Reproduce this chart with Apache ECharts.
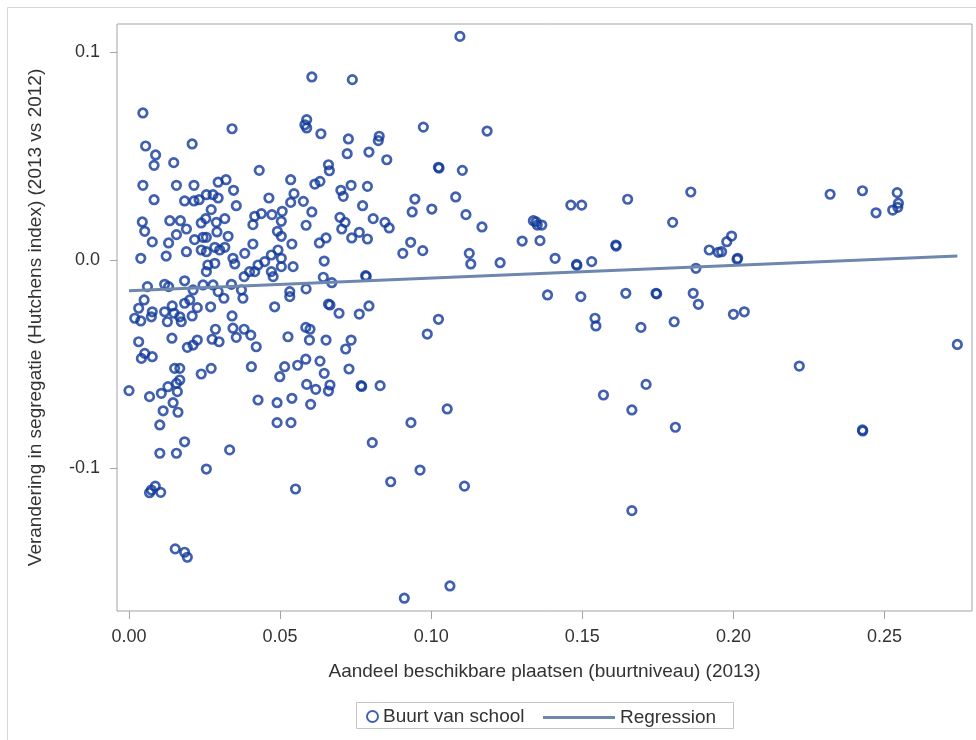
<!DOCTYPE html>
<html>
<head>
<meta charset="utf-8">
<script src="https://cdn.jsdelivr.net/npm/echarts@6/dist/echarts.min.js"></script>
<style>
  html, body { margin: 0; padding: 0; background: #fff; }
  #chart { width: 976px; height: 740px; }
</style>
</head>
<body>
<div id="chart"></div>
<script>
// Share of available places per neighbourhood (2013)
const shareX = [
  0.0046, 0.0341, 0.0055, 0.0209, 0.0088, 0.0083, 0.0148, 0.0431, 0.0046, 0.0157,
  0.0215, 0.0295, 0.0321, 0.0346, 0.0535, 0.0083, 0.0184, 0.0215, 0.0232, 0.0256,
  0.0278, 0.0295, 0.0355, 0.0463, 0.0546, 0.0535, 0.0272, 0.0254, 0.0239, 0.0289,
  0.0317, 0.0044, 0.0052, 0.0077, 0.0135, 0.0170, 0.0190, 0.0157, 0.0131, 0.0217,
  0.0245, 0.0256, 0.0291, 0.0328, 0.0416, 0.0410, 0.0438, 0.0473, 0.0507, 0.0504,
  0.0491, 0.0504, 0.0410, 0.0539, 0.0190, 0.0239, 0.0256, 0.0284, 0.0300, 0.0317,
  0.0344, 0.0383, 0.0350, 0.0284, 0.0261, 0.0256, 0.0039, 0.0123, 0.0381, 0.0399,
  0.0416, 0.0427, 0.0449, 0.0471, 0.0493, 0.0504, 0.0471, 0.0477, 0.0504, 0.0543,
  0.0061, 0.0118, 0.0131, 0.0184, 0.0212, 0.0245, 0.0278, 0.0295, 0.0339, 0.0372,
  0.0377, 0.0314, 0.0532, 0.0532, 0.0482, 0.0050, 0.0032, 0.0019, 0.0039, 0.0074,
  0.0077, 0.0118, 0.0127, 0.0143, 0.0149, 0.0168, 0.0173, 0.0184, 0.0201, 0.0226,
  0.0209, 0.0270, 0.0341, 0.0286, 0.0344, 0.0381, 0.0403, 0.0355, 0.0275, 0.0298,
  0.0226, 0.0212, 0.0193, 0.0142, 0.0032, 0.0052, 0.0041, 0.0077, 0.0421, 0.0526,
  0.0405, 0.0515, 0.0499, 0.0558, 0.0151, 0.0168, 0.0168, 0.0157, 0.0272, 0.0239,
  0.0129, 0.0160, 0.0107, 0.0068, 0.0000, 0.0146, 0.0162, 0.0113, 0.0102, 0.0184,
  0.0102, 0.0157, 0.0333, 0.0427, 0.0490, 0.0539, 0.0490, 0.0536, 0.0256, 0.0074,
  0.0087, 0.0105, 0.0068, 0.0551, 0.0153, 0.0184, 0.0193, 0.1095, 0.0605, 0.0739,
  0.0588, 0.0582, 0.0588, 0.0635, 0.0726, 0.0828, 0.0825, 0.0974, 0.0722, 0.0794,
  0.0853, 0.0660, 0.0663, 0.1024, 0.1026, 0.1103, 0.0615, 0.0632, 0.0701, 0.0709,
  0.0735, 0.0789, 0.0577, 0.0605, 0.0773, 0.0946, 0.0937, 0.1002, 0.1081, 0.1115,
  0.0586, 0.0698, 0.0715, 0.0704, 0.0808, 0.0847, 0.0861, 0.0737, 0.0762, 0.0789,
  0.0652, 0.0630, 0.0932, 0.1168, 0.0906, 0.0972, 0.1126, 0.1131, 0.0646, 0.0643,
  0.0671, 0.0783, 0.0785, 0.0586, 0.0660, 0.0665, 0.0695, 0.0762, 0.0794, 0.1024,
  0.0987, 0.0585, 0.0599, 0.0597, 0.0652, 0.0735, 0.0717, 0.0585, 0.0632, 0.0646,
  0.0728, 0.0588, 0.0618, 0.0665, 0.0660, 0.0768, 0.0770, 0.0831, 0.0601, 0.1053,
  0.0933, 0.0805, 0.0866, 0.0963, 0.1110, 0.1062, 0.0911, 0.1185, 0.1859, 0.1650,
  0.1462, 0.1498, 0.1338, 0.1351, 0.1366, 0.1347, 0.1301, 0.1360, 0.1611, 0.1612,
  0.1799, 0.1920, 0.1950, 0.1228, 0.1410, 0.1481, 0.1482, 0.1531, 0.1876, 0.1385,
  0.1495, 0.1644, 0.1744, 0.1746, 0.1867, 0.1884, 0.1542, 0.1545, 0.1694, 0.1804,
  0.2320, 0.2427, 0.2542, 0.2472, 0.2527, 0.2544, 0.2546, 0.1994, 0.1978, 0.1961,
  0.2014, 0.2012, 0.2000, 0.2036, 0.2741, 0.1570, 0.1711, 0.1664, 0.1808, 0.2218,
  0.2427, 0.2428, 0.1664
];

// Change in segregation, Hutchens index (2013 vs 2012)
const segChange = [
  0.0707, 0.0631, 0.0548, 0.0558, 0.0505, 0.0455, 0.0468, 0.0431, 0.0359, 0.0359,
  0.0359, 0.0374, 0.0386, 0.0335, 0.0386, 0.0290, 0.0284, 0.0284, 0.0290, 0.0314,
  0.0314, 0.0298, 0.0261, 0.0298, 0.0319, 0.0277, 0.0242, 0.0199, 0.0178, 0.0181,
  0.0199, 0.0183, 0.0138, 0.0087, 0.0189, 0.0189, 0.0149, 0.0122, 0.0082, 0.0098,
  0.0109, 0.0109, 0.0135, 0.0114, 0.0210, 0.0170, 0.0223, 0.0218, 0.0234, 0.0186,
  0.0138, 0.0114, 0.0077, 0.0077, 0.0040, 0.0048, 0.0040, 0.0061, 0.0048, 0.0061,
  0.0008, 0.0032, -0.0019, -0.0016, -0.0024, -0.0056, 0.0008, 0.0019, -0.0080, -0.0056,
  -0.0056, -0.0024, -0.0008, 0.0024, 0.0048, 0.0008, -0.0056, -0.0080, -0.0032, -0.0032,
  -0.0128, -0.0117, -0.0128, -0.0100, -0.0144, -0.0120, -0.0120, -0.0152, -0.0117, -0.0144,
  -0.0184, -0.0184, -0.0152, -0.0176, -0.0225, -0.0192, -0.0232, -0.0280, -0.0293, -0.0273,
  -0.0249, -0.0249, -0.0297, -0.0221, -0.0256, -0.0273, -0.0297, -0.0208, -0.0192, -0.0229,
  -0.0269, -0.0225, -0.0269, -0.0333, -0.0328, -0.0333, -0.0361, -0.0372, -0.0381, -0.0393,
  -0.0385, -0.0409, -0.0420, -0.0376, -0.0393, -0.0449, -0.0473, -0.0465, -0.0417, -0.0369,
  -0.0513, -0.0513, -0.0561, -0.0506, -0.0521, -0.0521, -0.0577, -0.0593, -0.0521, -0.0548,
  -0.0609, -0.0633, -0.0641, -0.0657, -0.0628, -0.0686, -0.0732, -0.0725, -0.0793, -0.0874,
  -0.0929, -0.0929, -0.0913, -0.0673, -0.0686, -0.0665, -0.0782, -0.0782, -0.1005, -0.1106,
  -0.1087, -0.1117, -0.1119, -0.1101, -0.1389, -0.1405, -0.1429, 0.1075, 0.0880, 0.0867,
  0.0675, 0.0650, 0.0635, 0.0607, 0.0582, 0.0595, 0.0574, 0.0639, 0.0511, 0.0519,
  0.0482, 0.0458, 0.0429, 0.0446, 0.0442, 0.0431, 0.0365, 0.0378, 0.0335, 0.0306,
  0.0359, 0.0354, 0.0282, 0.0231, 0.0261, 0.0293, 0.0231, 0.0245, 0.0303, 0.0218,
  0.0167, 0.0205, 0.0181, 0.0149, 0.0199, 0.0181, 0.0154, 0.0106, 0.0133, 0.0101,
  0.0106, 0.0082, 0.0085, 0.0159, 0.0032, 0.0045, 0.0032, -0.0019, -0.0005, -0.0083,
  -0.0109, -0.0075, -0.0079, -0.0139, -0.0212, -0.0216, -0.0256, -0.0260, -0.0221, -0.0285,
  -0.0356, -0.0324, -0.0333, -0.0385, -0.0385, -0.0385, -0.0428, -0.0477, -0.0486, -0.0545,
  -0.0524, -0.0598, -0.0622, -0.0601, -0.0630, -0.0604, -0.0608, -0.0604, -0.0694, -0.0716,
  -0.0782, -0.0878, -0.1066, -0.1010, -0.1087, -0.1567, -0.1626, 0.0620, 0.0327, 0.0292,
  0.0264, 0.0264, 0.0189, 0.0168, 0.0168, 0.0183, 0.0091, 0.0093, 0.0072, 0.0067,
  0.0181, 0.0048, 0.0037, -0.0013, 0.0008, -0.0021, -0.0026, -0.0008, -0.0040, -0.0168,
  -0.0176, -0.0160, -0.0160, -0.0163, -0.0160, -0.0213, -0.0280, -0.0317, -0.0324, -0.0297,
  0.0316, 0.0333, 0.0324, 0.0227, 0.0240, 0.0253, 0.0273, 0.0115, 0.0088, 0.0040,
  0.0008, 0.0003, -0.0261, -0.0249, -0.0406, -0.0649, -0.0598, -0.0721, -0.0804, -0.0510,
  -0.0817, -0.0822, -0.1205
];

// Fitted regression line, evaluated at the smallest and largest x
const regX = [0.0000, 0.2741];
const regY = [-0.0148, 0.0019];

// Tick labels
const xTicks = [0, 0.05, 0.10, 0.15, 0.20, 0.25];
const yTicks = [-0.1, 0, 0.1];

const pointColor = '#12399b';
const lineColor = '#6e87ae';
const textColor = '#333333';
const fontFamily = 'Liberation Sans, Arial, sans-serif';

const points = shareX.map((x, i) => [x, segChange[i]]);
const regLine = regX.map((x, i) => [x, regY[i]]);

const chart = echarts.init(document.getElementById('chart'), null, { renderer: 'canvas' });

chart.setOption({
  animation: false,
  backgroundColor: '#ffffff',
  textStyle: { fontFamily: fontFamily, color: textColor },
  grid: {
    left: 117, top: 24, right: 4, bottom: 129,
    show: true, borderColor: '#a3a3a3', borderWidth: 1,
    containLabel: false
  },
  graphic: [
    {
      type: 'rect', silent: true, z: -10,
      shape: { x: 7.5, y: 7.5, width: 1200, height: 1200 },
      style: { fill: 'none', stroke: '#d6d6d6', lineWidth: 1 }
    },
    {
      type: 'rect', silent: true,
      shape: { x: 356.5, y: 702.5, width: 377, height: 26 },
      style: { fill: 'none', stroke: '#c4c4c4', lineWidth: 1 }
    }
  ],
  xAxis: {
    type: 'value',
    min: -0.00397, max: 0.27895,
    name: 'Aandeel beschikbare plaatsen (buurtniveau) (2013)',
    nameLocation: 'middle', nameGap: 51,
    nameTextStyle: { fontSize: 19, color: textColor, fontFamily: fontFamily },
    splitLine: { show: false },
    axisLine: { show: false, onZero: false },
    axisTick: { show: true, length: 8, customValues: xTicks, lineStyle: { color: '#a3a3a3', width: 1 } },
    axisLabel: {
      customValues: xTicks, margin: 17, fontSize: 18, color: textColor, fontFamily: fontFamily,
      formatter: v => v.toFixed(2)
    }
  },
  yAxis: {
    type: 'value',
    min: -0.16875, max: 0.11346,
    name: 'Verandering in segregatie (Hutchens index) (2013 vs 2012)',
    nameLocation: 'middle', nameGap: 72, nameRotate: 90,
    nameTextStyle: { fontSize: 19, color: textColor, fontFamily: fontFamily },
    splitLine: { show: false },
    axisLine: { show: false, onZero: false },
    axisTick: { show: true, length: 7, customValues: yTicks, lineStyle: { color: '#a3a3a3', width: 1 } },
    axisLabel: {
      customValues: yTicks, margin: 17, fontSize: 18, color: textColor, fontFamily: fontFamily,
      formatter: v => v.toFixed(1)
    }
  },
  legend: [
    {
      data: [{ name: 'Buurt van school', icon: 'circle' }],
      left: 366, top: 707, padding: 0,
      itemWidth: 11, itemHeight: 11, itemGap: 10,
      selectedMode: false,
      textStyle: { fontSize: 19, color: textColor, fontFamily: fontFamily }
    },
    {
      data: [{ name: 'Regression', icon: 'rect', itemStyle: { color: lineColor } }],
      left: 543, top: 708, padding: 0,
      itemWidth: 72, itemHeight: 3, itemGap: 10,
      selectedMode: false,
      textStyle: { fontSize: 19, color: textColor, fontFamily: fontFamily }
    }
  ],
  series: [
    {
      name: 'Buurt van school',
      type: 'scatter',
      data: points,
      symbol: 'circle',
      symbolSize: 8.5,
      itemStyle: { color: 'rgba(255,255,255,0)', borderColor: pointColor, borderWidth: 2.7 },
      emphasis: { disabled: true },
      z: 2
    },
    {
      name: 'Regression',
      type: 'line',
      data: regLine,
      symbol: 'none',
      lineStyle: { color: lineColor, width: 3 },
      itemStyle: { color: lineColor },
      emphasis: { disabled: true },
      z: 3
    }
  ]
});
</script>
</body>
</html>
